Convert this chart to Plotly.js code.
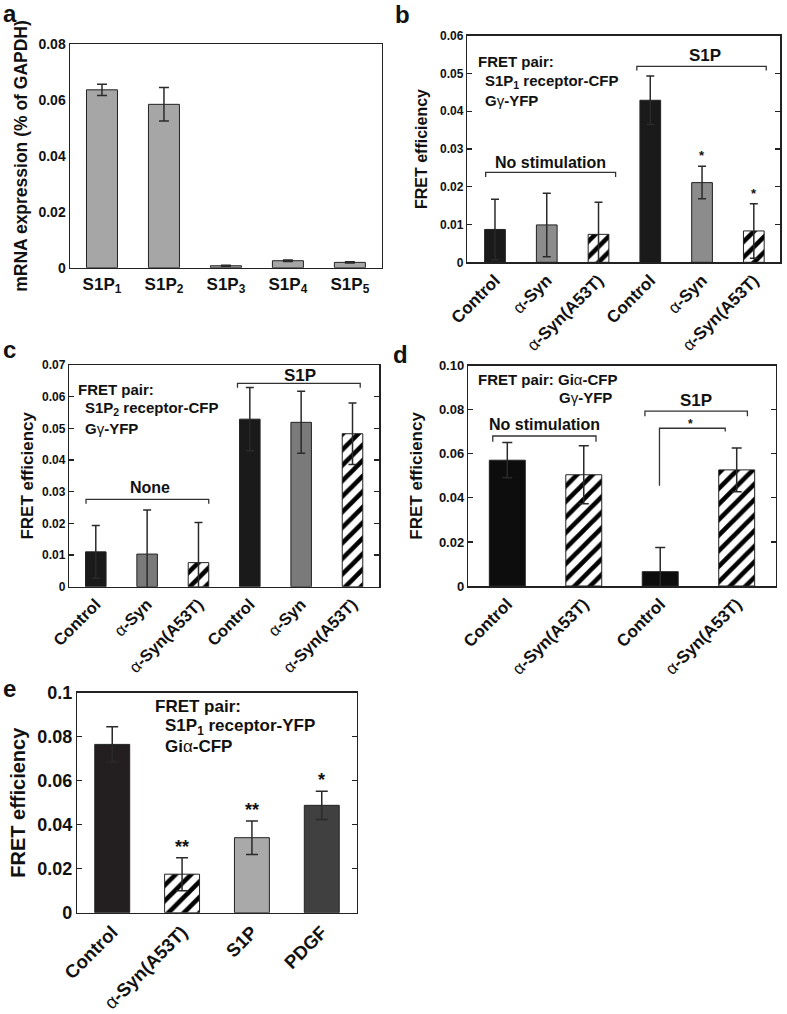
<!DOCTYPE html>
<html><head><meta charset="utf-8">
<script src="https://cdn.plot.ly/plotly-3.0.1.min.js"></script>
<style>html,body{margin:0;padding:0;background:#fff}</style>
</head><body><div id="fig" style="width:787px;height:1014px"></div>
<script>
// ---------- data ----------
const A = '<span style="font-weight:normal">α</span>';
const aCats = ['S1P<sub>1</sub>','S1P<sub>2</sub>','S1P<sub>3</sub>','S1P<sub>4</sub>','S1P<sub>5</sub>'];
const aVals = [0.0637, 0.0585, 0.0007, 0.0025, 0.0019];
const aErr  = [0.0020, 0.0060, 0.0002, 0.0003, 0.0002];

const bCats = ['Control', A+'-Syn', A+'-Syn(A53T)', 'Control', A+'-Syn', A+'-Syn(A53T)'];
const bVals = [0.0087, 0.0099, 0.0074, 0.0429, 0.0211, 0.0083];
const bErr  = [0.0080, 0.0084, 0.0085, 0.0064, 0.0043, 0.0072];
const bStars = ['', '', '', '', '*', '*'];

const cCats = ['Control', A+'-Syn', A+'-Syn(A53T)', 'Control', A+'-Syn', A+'-Syn(A53T)'];
const cVals = [0.0110, 0.0103, 0.0076, 0.0529, 0.0519, 0.0483];
const cErr  = [0.0083, 0.0139, 0.0127, 0.0100, 0.0098, 0.0097];

const dCats = ['Control', A+'-Syn(A53T)', 'Control', A+'-Syn(A53T)'];
const dVals = [0.0571, 0.0505, 0.0065, 0.0527];
const dErr  = [0.0080, 0.0132, 0.0110, 0.0099];
const dTickVals = [0, 0.02, 0.04, 0.06, 0.08, 0.10];
const dTickText = ['0', '0.02', '0.04', '0.06', '0.08', '0.10'];

const eCats = ['Control', A+'-Syn(A53T)', 'S1P', 'PDGF'];
const eVals = [0.0765, 0.0175, 0.0341, 0.0488];
const eErr  = [0.0080, 0.0075, 0.0076, 0.0064];
const eStars = ['', '**', '**', '*'];

// ---------- helpers ----------
const W = 787, H = 1014;
const FF = 'Liberation Sans, Arial, Helvetica, sans-serif';
const fx = p => p / W;
const fy = p => 1 - p / H;
const idx = arr => arr.map((_, i) => i);
const HATCH = '#hatch';

function barTraces(cats, vals, errs, colors, xa, ya, capW, bw, noClip) {
  const solidI = idx(cats).filter(i => colors[i] !== HATCH);
  const hatchI = idx(cats).filter(i => colors[i] === HATCH);
  const common = {type: 'bar', xaxis: xa, yaxis: ya, width: bw, showlegend: false, hoverinfo: 'skip',
                  cliponaxis: !noClip};
  const eb = ii => ({type: 'data', array: ii.map(i => errs[i]), visible: true, color: '#2a2a2a', thickness: 1.5, width: capW});
  const out = [Object.assign({}, common, {
    x: solidI, y: solidI.map(i => vals[i]),
    marker: {color: solidI.map(i => colors[i]), line: {color: '#222', width: 1}},
    error_y: eb(solidI)
  })];
  if (hatchI.length) out.push(Object.assign({}, common, {
    x: hatchI, y: hatchI.map(i => vals[i]),
    marker: {color: '#ffffff', line: {color: '#222', width: 1},
      pattern: {shape: '/', fillmode: 'replace', fgcolor: '#000000', bgcolor: '#ffffff', size: 11, solidity: 0.42}},
    error_y: eb(hatchI)
  }));
  return out;
}

function xAxis(box, cats, range, fsize, angle, yname) {
  return {
    domain: [fx(box[0]), fx(box[1])], anchor: yname, range: range,
    tickmode: 'array', tickvals: idx(cats), ticktext: cats, tickangle: angle,
    tickfont: {family: FF, size: fsize, color: '#111', weight: 'bold'},
    showline: true, mirror: true, linecolor: '#222', linewidth: 1.5,
    ticks: '', showgrid: false, zeroline: false, fixedrange: true
  };
}
function yAxis(box, range, dtick, fsize, title, tsize, standoff, xname, ticks) {
  return {
    domain: [fy(box[3]), fy(box[2])], anchor: xname, range: range, dtick: dtick,
    tickfont: {family: FF, size: fsize, color: '#111', weight: 'bold'},
    title: {text: title, font: {family: FF, size: tsize, color: '#111', weight: 'bold'}, standoff: standoff},
    showline: true, mirror: ticks ? 'ticks' : true, linecolor: '#222', linewidth: 1.5,
    ticks: ticks ? 'inside' : '', ticklen: 5, tickcolor: '#222', tickwidth: 1.2,
    showgrid: false, zeroline: false, fixedrange: true
  };
}

// pixel boxes [left, right, top, bottom]
const boxA = [70, 381.5, 44.3, 267.7];
const boxB = [467.3, 780, 35.7, 262.3];
const boxC = [69.3, 379, 365, 586.7];
const boxD = [468.3, 775.7, 365.7, 586];
const boxE = [77.3, 356.7, 692.7, 912.7];

const traces = [].concat(
  barTraces(aCats, aVals, aErr, aCats.map(() => '#a6a6a6'), 'x', 'y', 5, 0.5),
  barTraces(bCats, bVals, bErr, ['#1a1a1a', '#8c8c8c', HATCH, '#1a1a1a', '#8c8c8c', HATCH], 'x2', 'y2', 4, 0.4),
  barTraces(cCats, cVals, cErr, ['#1a1a1a', '#7a7a7a', HATCH, '#1a1a1a', '#7a7a7a', HATCH], 'x3', 'y3', 4, 0.4),
  barTraces(dCats, dVals, dErr, ['#0d0d0d', HATCH, '#0d0d0d', HATCH], 'x4', 'y4', 5, 0.47, true),
  barTraces(eCats, eVals, eErr, ['#231f20', HATCH, '#a9a9a9', '#404040'], 'x5', 'y5', 6, 0.5)
);

function bracket(xr, yr, x0, x1, y, tip) {
  return {type: 'path', xref: xr, yref: yr,
    path: `M ${x0},${y - tip} L ${x0},${y} L ${x1},${y} L ${x1},${y - tip}`,
    line: {color: '#333', width: 1.3}};
}
const shapes = [
  bracket('x2', 'y2', -0.18, 2.33, 0.0238, 0.0012),
  bracket('x2', 'y2', 2.74, 5.24, 0.0519, 0.0011),
  bracket('x3', 'y3', -0.19, 2.2, 0.0276, 0.0014),
  bracket('x3', 'y3', 2.76, 5.15, 0.0642, 0.0014),
  bracket('x4', 'y4', -0.19, 1.16, 0.0681, 0.0026),
  bracket('x4', 'y4', 1.8, 3.14, 0.0794, 0.0023),
  {type: 'path', xref: 'x4', yref: 'y4', path: 'M 1.99,0.0455 L 1.99,0.0716 L 2.85,0.0716 L 2.85,0.0701',
   line: {color: '#333', width: 1.3}}
];

function lab(x, y, t, size, xanchor) {
  return {xref: 'paper', yref: 'paper', x: fx(x), y: fy(y), text: t, showarrow: false,
    xanchor: xanchor || 'left', yanchor: 'middle',
    font: {family: FF, size: size, color: '#111', weight: 'bold'}};
}
function dlab(xr, yr, x, y, t, size) {
  return {xref: xr, yref: yr, x: x, y: y, text: t, showarrow: false, xanchor: 'center', yanchor: 'middle',
    font: {family: FF, size: size, color: '#111', weight: 'bold'}};
}
const G = 'G<span style="font-weight:normal">γ</span>-YFP';
const annotations = [
  lab(1, 14, 'a', 24), lab(393, 15, 'b', 24), lab(1, 349, 'c', 24),
  lab(391, 354, 'd', 24), lab(1, 688, 'e', 24),
  // b
  lab(476, 61.7, 'FRET pair:', 15), lab(483, 81.5, 'S1P<sub>1</sub> receptor-CFP', 15), lab(483, 101, G, 15),
  dlab('x2', 'y2', 1.07, 0.0265, 'No stimulation', 16), dlab('x2', 'y2', 4.06, 0.0548, 'S1P', 17),
  // c
  lab(76, 389, 'FRET pair:', 15), lab(83.3, 409, 'S1P<sub>2</sub> receptor-CFP', 15), lab(83.3, 428.3, G, 15),
  dlab('x3', 'y3', 1.06, 0.0312, 'None', 16), dlab('x3', 'y3', 3.98, 0.0668, 'S1P', 17),
  // d
  lab(476, 379.3, 'FRET pair: Gi<span style="font-weight:normal">α</span>-CFP', 15), lab(556.7, 397.3, G, 15),
  dlab('x4', 'y4', 0.48, 0.0731, 'No stimulation', 16), dlab('x4', 'y4', 2.47, 0.084, 'S1P', 17),
  dlab('x4', 'y4', 2.39, 0.0735, '*', 12),
  // e
  lab(152.7, 706.7, 'FRET pair:', 17), lab(162.7, 727.3, 'S1P<sub>1</sub> receptor-YFP', 17), lab(162.7, 746.7, 'Gi<span style="font-weight:normal">α</span>-CFP', 17)
];
// asterisks from the star arrays
bStars.forEach((s, i) => { if (s) annotations.push(dlab('x2', 'y2', i, bVals[i] + bErr[i] + 0.0028, s, 13)); });
eStars.forEach((s, i) => { if (s) annotations.push(dlab('x5', 'y5', i, eVals[i] + eErr[i] + 0.0050, s, 18)); });

const layout = {
  width: W, height: H, margin: {l: 0, r: 0, t: 0, b: 0},
  paper_bgcolor: '#fff', plot_bgcolor: '#fff', showlegend: false, bargap: 0, barmode: 'overlay',
  xaxis:  xAxis(boxA, aCats, [-0.516, 4.51], 17, 0, 'y'),
  yaxis:  yAxis(boxA, [0, 0.08], 0.02, 14, 'mRNA expression (% of GAPDH)', 17.5, 6, 'x', false),
  xaxis2: xAxis(boxB, bCats, [-0.535, 5.506], 17, -45, 'y2'),
  yaxis2: yAxis(boxB, [0, 0.06], 0.01, 12, 'FRET efficiency', 16, 8, 'x2', true),
  xaxis3: xAxis(boxC, cCats, [-0.516, 5.516], 16.5, -45, 'y3'),
  yaxis3: yAxis(boxC, [0, 0.07], 0.01, 12, 'FRET efficiency', 17, 4, 'x3', true),
  xaxis4: xAxis(boxD, dCats, [-0.51, 3.51], 17, -45, 'y4'),
  yaxis4: yAxis(boxD, [0, 0.1], null, 13, 'FRET efficiency', 17, 12, 'x4', true),
  xaxis5: xAxis(boxE, eCats, [-0.5, 3.5], 18.5, -45, 'y5'),
  yaxis5: yAxis(boxE, [0, 0.1], 0.02, 18, 'FRET efficiency', 20, 6, 'x5', true),
  shapes: shapes, annotations: annotations
};
layout.yaxis4.tickmode = 'array';
layout.yaxis4.tickvals = dTickVals;
layout.yaxis4.ticktext = dTickText;

Plotly.newPlot('fig', traces, layout, {displayModeBar: false, staticPlot: true});
</script></body></html>
